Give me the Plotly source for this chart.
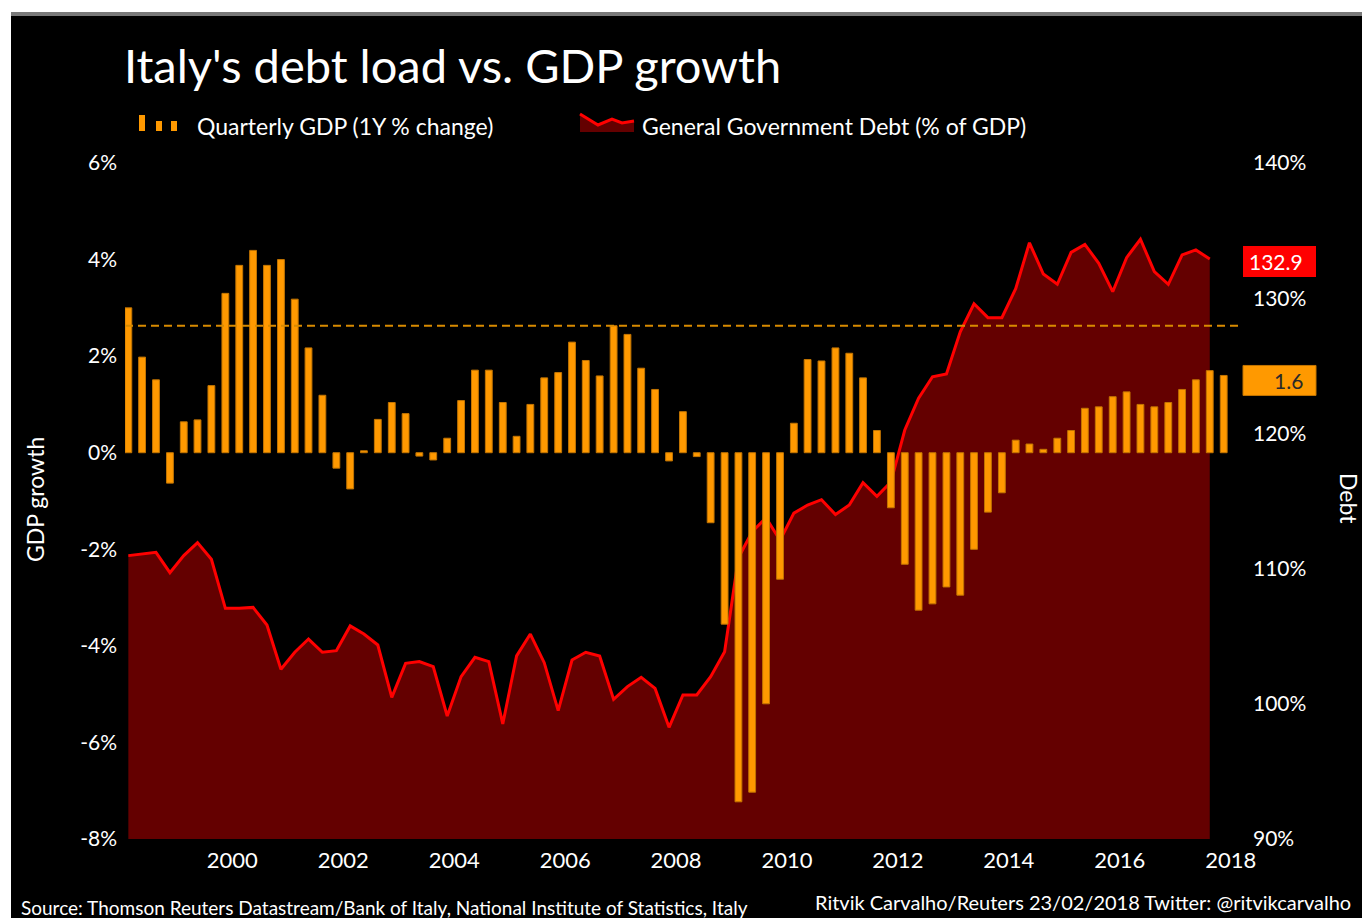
import pandas as pd
import plotly.graph_objects as go

# ---------------------------------------------------------------------------
# Data: Italy, quarterly, starting 1998 Q1
# ---------------------------------------------------------------------------
START_QUARTER = "1998Q1"

# Real GDP, % change on a year earlier (1998 Q1 - 2017 Q4)
gdp_growth = [
    3.00, 1.98, 1.51, -0.63, 0.64, 0.68, 1.39, 3.30,
    3.88, 4.19, 3.88, 4.00, 3.18, 2.17, 1.19, -0.32,
    -0.75, 0.04, 0.69, 1.04, 0.81, -0.07, -0.15, 0.30,
    1.08, 1.71, 1.71, 1.04, 0.34, 1.00, 1.55, 1.66,
    2.29, 1.91, 1.59, 2.63, 2.45, 1.75, 1.31, -0.17,
    0.85, -0.08, -1.45, -3.55, -7.23, -7.03, -5.20, -2.62,
    0.61, 1.93, 1.90, 2.17, 2.06, 1.55, 0.46, -1.14,
    -2.31, -3.26, -3.13, -2.78, -2.95, -2.00, -1.23, -0.83,
    0.26, 0.18, 0.07, 0.30, 0.46, 0.92, 0.95, 1.16,
    1.26, 1.00, 0.95, 1.04, 1.31, 1.51, 1.70, 1.60,
]

# General government debt, % of GDP (1998 Q1 - 2017 Q3)
debt_ratio = [
    110.96, 111.08, 111.20, 109.70, 110.96, 111.92, 110.69, 107.06,
    107.06, 107.13, 105.83, 102.55, 103.81, 104.79, 103.81, 103.93,
    105.76, 105.16, 104.35, 100.48, 102.99, 103.12, 102.75, 99.10,
    102.01, 103.44, 103.12, 98.51, 103.54, 105.16, 103.04, 99.49,
    103.24, 103.81, 103.54, 100.33, 101.27, 101.96, 101.14, 98.26,
    100.65, 100.65, 102.01, 103.85, 110.80, 112.73, 113.75, 112.10,
    114.10, 114.70, 115.10, 114.00, 114.70, 116.35, 115.35, 116.40,
    120.25, 122.60, 124.19, 124.39, 127.52, 129.59, 128.56, 128.56,
    130.70, 134.10, 131.79, 131.03, 133.39, 133.98, 132.58, 130.48,
    133.00, 134.36, 131.96, 131.03, 133.20, 133.57, 132.90,
]

year_ticks = list(range(2000, 2019, 2))
gdp_ticks = [-8, -6, -4, -2, 0, 2, 4, 6]
debt_ticks = [90, 100, 110, 120, 130, 140]

# ---------------------------------------------------------------------------
# Layout geometry (pixels) and styling
# ---------------------------------------------------------------------------
W, H = 1362, 918
L, R, T, B = 125, 1243, 163, 839
GDP_RANGE = [-8, 6]
DEBT_RANGE = [90, 140]
X_RANGE = ["1998-01-24", "2018-03-23"]

FONT = "Lato"
ORANGE = "#ff9900"
ORANGE_EDGE = "#c27400"
RED = "#ff0000"
DARK_RED = "#640000"


def px_x(px):
    return (px - L) / (R - L)


def px_y(py):
    return (B - py) / (B - T)


# Bars sit in the middle of each quarter
periods = pd.period_range(START_QUARTER, periods=len(gdp_growth), freq="Q")
mid_quarter = [p.start_time + (p.end_time - p.start_time) / 2 for p in periods]
bar_width_ms = 45 * 24 * 3600 * 1000

# Reference level: pre-crisis peak growth, 2006 Q4
ref_level = gdp_growth[periods.get_loc(pd.Period("2006Q4", freq="Q"))]

fig = go.Figure()

# Debt ratio: red line with dark filled area (drawn first, underneath bars)
fig.add_trace(go.Scatter(
    x=mid_quarter[:len(debt_ratio)], y=debt_ratio,
    mode="lines", fill="tozeroy", fillcolor=DARK_RED,
    line=dict(color=RED, width=3), yaxis="y",
    hoverinfo="skip",
))

# Dashed reference line across the plot
fig.add_trace(go.Scatter(
    x=X_RANGE, y=[ref_level, ref_level], mode="lines",
    line=dict(color="#d88a00", width=2, dash="8px,5px"),
    yaxis="y2", hoverinfo="skip",
))

# GDP growth bars
fig.add_trace(go.Bar(
    x=mid_quarter, y=gdp_growth, width=[bar_width_ms] * len(gdp_growth),
    marker=dict(color=ORANGE, line=dict(color=ORANGE_EDGE, width=1)),
    yaxis="y2", hoverinfo="skip",
))

tick_font = dict(family=FONT, size=21, color="white")

fig.update_layout(
    width=W, height=H,
    margin=dict(l=L, r=W - R, t=T, b=H - B, pad=0),
    paper_bgcolor="black", plot_bgcolor="black",
    showlegend=False,
    font=dict(family=FONT, color="white"),
    xaxis=dict(
        type="date", range=X_RANGE,
        tickvals=[f"{y}-01-01" for y in year_ticks],
        ticktext=[str(y) for y in year_ticks],
        showgrid=False, zeroline=False, showline=False, ticks="",
        tickfont=dict(family=FONT, size=22, color="white"), ticklabelstandoff=6,
    ),
    yaxis=dict(
        side="right", range=DEBT_RANGE,
        tickvals=debt_ticks, ticktext=[f"{v}%" for v in debt_ticks],
        showgrid=False, zeroline=False, showline=False, ticks="",
        tickfont=tick_font, ticklabelstandoff=9,
    ),
    yaxis2=dict(
        side="left", overlaying="y", range=GDP_RANGE,
        tickvals=gdp_ticks, ticktext=[f"{v}%" for v in gdp_ticks],
        showgrid=False, zeroline=False, showline=False, ticks="",
        tickfont=tick_font, ticklabelstandoff=7,
    ),
)

shapes = []
# Page frame: white strips on top/left, grey rule along the top
shapes.append(dict(type="rect", xref="paper", yref="paper",
                   x0=px_x(0), x1=px_x(W), y0=px_y(0), y1=px_y(12),
                   fillcolor="white", line=dict(width=0)))
shapes.append(dict(type="rect", xref="paper", yref="paper",
                   x0=px_x(0), x1=px_x(11), y0=px_y(0), y1=px_y(H),
                   fillcolor="white", line=dict(width=0)))
shapes.append(dict(type="rect", xref="paper", yref="paper",
                   x0=px_x(11), x1=px_x(W), y0=px_y(12), y1=px_y(16),
                   fillcolor="#7a7a7a", line=dict(width=0)))

# Legend keys
for x0, x1, y0, y1 in [(139, 145, 115, 131), (156, 162, 121, 131), (171, 177, 121, 131)]:
    shapes.append(dict(type="rect", xref="paper", yref="paper",
                       x0=px_x(x0), x1=px_x(x1), y0=px_y(y1), y1=px_y(y0),
                       fillcolor=ORANGE, line=dict(width=0)))
key_line = [(580, 114), (598, 125), (612, 119), (622, 123), (634, 121)]
area = [(580, 132)] + key_line + [(634, 132)]
shapes.append(dict(type="path", xref="paper", yref="paper",
                   path="M " + " L ".join(f"{px_x(a)},{px_y(b)}" for a, b in area) + " Z",
                   fillcolor=DARK_RED, line=dict(width=0)))
shapes.append(dict(type="path", xref="paper", yref="paper",
                   path="M " + " L ".join(f"{px_x(a)},{px_y(b)}" for a, b in key_line),
                   line=dict(color=RED, width=3)))

# Latest-value tags on the right
debt_ppu = (B - T) / (DEBT_RANGE[1] - DEBT_RANGE[0])
gdp_ppu = (B - T) / (GDP_RANGE[1] - GDP_RANGE[0])
last_debt = debt_ratio[-1]
last_gdp = gdp_growth[-1]
shapes.append(dict(type="rect", xref="paper", yref="y",
                   x0=1.0, x1=px_x(1316),
                   y0=last_debt - 18 / debt_ppu, y1=last_debt + 13 / debt_ppu,
                   fillcolor=RED, line=dict(width=0)))
shapes.append(dict(type="rect", xref="paper", yref="y2",
                   x0=1.0, x1=px_x(1316),
                   y0=last_gdp - 20 / gdp_ppu, y1=last_gdp + 10 / gdp_ppu,
                   fillcolor=ORANGE, line=dict(color=ORANGE_EDGE, width=1)))
fig.update_layout(shapes=shapes)

annotations = [
    dict(text="Italy's debt load vs. GDP growth", x=px_x(122), y=px_y(65),
         xanchor="left", yanchor="middle",
         font=dict(family=FONT, size=47, color="white")),
    dict(text="Quarterly GDP (1Y % change)", x=px_x(195), y=px_y(126),
         xanchor="left", yanchor="middle",
         font=dict(family=FONT, size=23, color="white")),
    dict(text="General Government Debt (% of GDP)", x=px_x(640), y=px_y(126),
         xanchor="left", yanchor="middle",
         font=dict(family=FONT, size=23, color="white")),
    dict(text="GDP growth", x=px_x(35), y=px_y(500), textangle=-90,
         xanchor="center", yanchor="middle",
         font=dict(family=FONT, size=23, color="white")),
    dict(text="Debt", x=px_x(1349), y=px_y(498), textangle=90,
         xanchor="center", yanchor="middle",
         font=dict(family=FONT, size=23, color="white")),
    dict(text="Source: Thomson Reuters Datastream/Bank of Italy, National Institute of Statistics, Italy",
         x=px_x(19), y=px_y(907), xanchor="left", yanchor="middle",
         font=dict(family=FONT, size=19, color="white")),
    dict(text="Ritvik Carvalho/Reuters 23/02/2018 Twitter: @ritvikcarvalho",
         x=px_x(1353), y=px_y(902), xanchor="right", yanchor="middle",
         font=dict(family=FONT, size=20, color="white")),
]
annotations.append(dict(text=f"{last_debt:.1f}", xref="paper", yref="y",
                        x=px_x(1305), y=last_debt, yshift=-3,
                        xanchor="right", yanchor="middle", showarrow=False,
                        font=dict(family=FONT, size=21, color="white")))
annotations.append(dict(text=f"{last_gdp:.1f}", xref="paper", yref="y2",
                        x=px_x(1305), y=last_gdp, yshift=-5,
                        xanchor="right", yanchor="middle", showarrow=False,
                        font=dict(family=FONT, size=21, color="#2a2a2a")))
for a in annotations:
    a.setdefault("xref", "paper")
    a.setdefault("yref", "paper")
    a.setdefault("showarrow", False)
fig.update_layout(annotations=annotations)

fig.write_html("out.html")
